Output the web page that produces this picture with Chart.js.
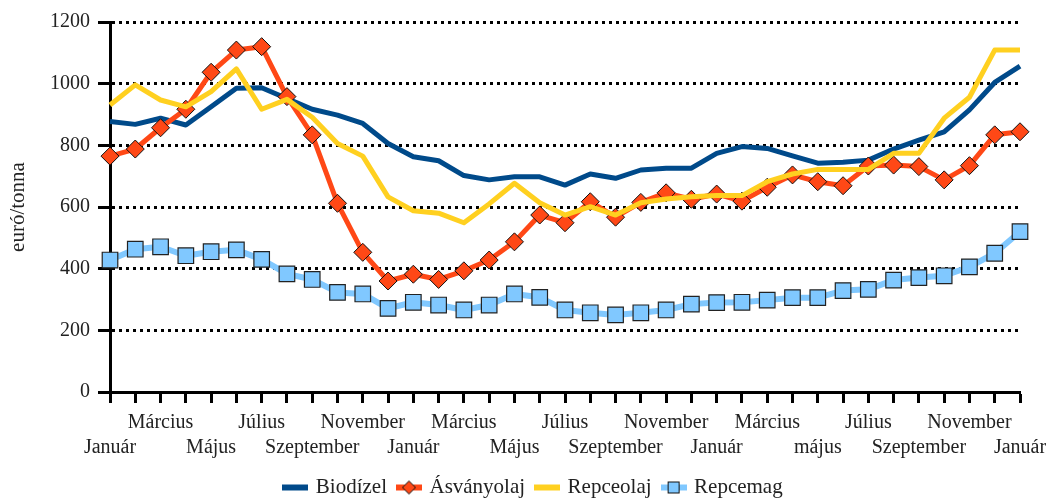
<!DOCTYPE html>
<html><head><meta charset="utf-8">
<script src="https://cdn.jsdelivr.net/npm/chart.js@4/dist/chart.umd.min.js"></script>
<style>html,body{margin:0;padding:0;background:#fff}#wrap{width:1049px;height:499px}</style>
</head><body><div id="wrap"><canvas id="c" width="1049" height="499"></canvas></div>
<script>
const categories = [
 'Január','Február','Március','Április','Május','Június','Július','Augusztus','Szeptember','Október','November','December',
 'Január','Február','Március','Április','Május','Június','Július','Augusztus','Szeptember','Október','November','December',
 'Január','Február','Március','Április','Május','Június','Július','Augusztus','Szeptember','Október','November','December',
 'Január'];
const tickLabels = [
 'Január','','Március','','Május','','Július','','Szeptember','','November','',
 'Január','','Március','','Május','','Július','','Szeptember','','November','',
 'Január','','Március','','május','','Július','','Szeptember','','November','',
 'Január'];
const biodizel = [877,868,888,866,925,985,987,952,917,898,871,806,763,750,702,688,698,698,671,707,693,720,726,726,774,796,790,766,742,745,752,788,817,844,915,1004,1057];
const asvanyolaj = [765,788,857,917,1037,1109,1120,958,834,612,453,360,382,365,393,428,487,574,549,617,567,615,646,625,642,619,664,704,682,669,733,736,731,688,734,834,844];
const repceolaj = [931,996,947,925,974,1048,917,949,891,806,765,633,588,580,549,610,677,614,574,601,574,614,626,633,637,637,682,707,722,722,722,774,774,888,956,1109,1109];
const repcemag = [428,463,471,442,455,461,430,383,365,323,318,271,291,282,266,282,318,307,266,257,250,257,266,285,290,291,298,306,306,329,333,363,371,377,406,450,520];
const seriesNames = ['Biodízel','Ásványolaj','Repceolaj','Repcemag'];
const yTicks = {min:0, max:1200, step:200};

const C_BLUE='#004A8A', C_RED='#FF4816', C_YEL='#FFD020', C_LB='#80C8FF';
const FONT = "'Liberation Serif', 'DejaVu Serif', serif";

function sample(kind){
  const cv=document.createElement('canvas'); cv.width=26; cv.height=18;
  const g=cv.getContext('2d');
  const col={0:C_BLUE,1:C_RED,2:C_YEL,3:C_LB}[kind];
  g.fillStyle=col; g.fillRect(0,6,26,6);
  if(kind===1){
    g.beginPath(); g.moveTo(13,2.5); g.lineTo(19.5,9); g.lineTo(13,15.5); g.lineTo(6.5,9); g.closePath();
    g.fillStyle=C_RED; g.fill(); g.strokeStyle='#111'; g.lineWidth=1; g.stroke();
  }
  if(kind===3){
    g.fillStyle=C_LB; g.fillRect(7.5,3.5,11,11); g.strokeStyle='#111'; g.lineWidth=1; g.strokeRect(7.5,3.5,11,11);
  }
  return cv;
}

const ds = [
 {label:seriesNames[0], data:biodizel, borderColor:C_BLUE, borderWidth:5, pointRadius:0, order:4},
 {label:seriesNames[1], data:asvanyolaj, borderColor:C_RED, borderWidth:5, pointStyle:'rectRot', pointRadius:9,
  pointBackgroundColor:C_RED, pointBorderColor:'#111', pointBorderWidth:1, order:3},
 {label:seriesNames[2], data:repceolaj, borderColor:C_YEL, borderWidth:5, pointRadius:0, order:2},
 {label:seriesNames[3], data:repcemag, borderColor:C_LB, borderWidth:6, pointStyle:'rect', pointRadius:11,
  pointBackgroundColor:C_LB, pointBorderColor:'#222', pointBorderWidth:1.2, order:1}
].map(d=>Object.assign({tension:0, clip:false, fill:false, pointHoverRadius:d.pointRadius, borderJoinStyle:'round'}, d));

const legendShift = {
  id:'legendShift',
  afterLayout(chart){ const L=chart.legend; if(L){ L.left+=24; L.right+=24; } }
};

new Chart(document.getElementById('c'), {
  type:'line',
  data:{labels:categories, datasets:ds},
  plugins:[legendShift],
  options:{
    responsive:false, animation:false, devicePixelRatio:1,
    events:[],
    layout:{padding:{top:22, right:29, left:0, bottom:-9}},
    plugins:{
      tooltip:{enabled:false},
      legend:{position:'bottom',
        labels:{usePointStyle:true, pointStyleWidth:20, padding:12, color:'#222', font:{family:FONT,size:21},
          generateLabels:(chart)=>chart.data.datasets.map((d,i)=>({text:d.label, pointStyle:sample(i), fillStyle:'transparent', strokeStyle:'transparent', lineWidth:0, hidden:false, datasetIndex:i, fontColor:'#222'}))
        }}
    },
    scales:{
      x:{offset:false,
        border:{color:'#000', width:3},
        grid:{drawOnChartArea:false, drawTicks:true, tickLength:11, tickColor:'#000', tickWidth:3},
        ticks:{autoSkip:false, maxRotation:0, minRotation:0, padding:7, color:'#222', font:{family:FONT,size:20, lineHeight:1.25},
          callback:(v,i)=>{const t=tickLabels[i]; if(!t) return ''; return ((i/2)%2===0)?['',t]:[t,''];}},
        afterFit:(s)=>{s.height=73; s.paddingRight=0; s.paddingLeft=0;}
      },
      y:{min:yTicks.min, max:yTicks.max,
        border:{color:'#000', width:3, dash:[3,4]},
        grid:{color:(c)=>c.tick && c.tick.value===0?'rgba(0,0,0,0)':'#000', lineWidth:3,
          tickLength:12, tickColor:'#000', tickWidth:3, tickBorderDash:[]},
        ticks:{stepSize:yTicks.step, padding:8, color:'#222', font:{family:FONT,size:20}, callback:(v)=>String(v)},
        title:{display:true, text:'euró/tonna', color:'#222', font:{family:FONT,size:21}, padding:{top:6,bottom:0}},
        afterFit:(s)=>{s.width=110;}
      }
    }
  }
});
</script></body></html>
